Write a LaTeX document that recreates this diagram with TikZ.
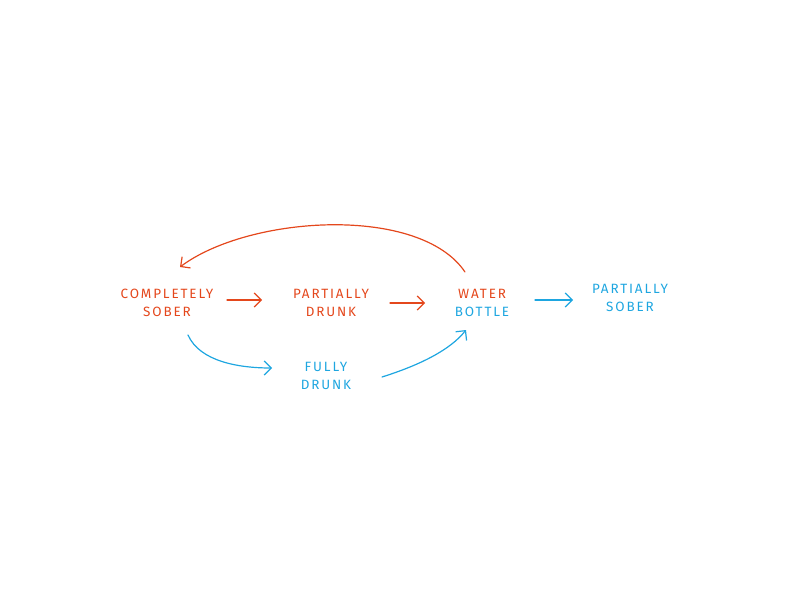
\documentclass[tikz,border=0pt]{standalone}
\usepackage{xcolor}
\usepackage{fontspec}
\setsansfont{Fira Sans}[LetterSpace=14]
\usepackage{tikz}
\usetikzlibrary{arrows.meta, positioning}
\definecolor{inkRed}{HTML}{E4471C}
\definecolor{inkBlue}{HTML}{1EA6E0}

\begin{document}
\begin{tikzpicture}[x=1bp, y=-1bp,
  state/.style={text=#1, align=center, inner sep=1pt,
                font=\sffamily\fontsize{13.5}{17.5}\selectfont},
  link/.style={draw=#1, line width=1.2pt, line cap=round,
               -{Straight Barb[length=7bp, width=14bp, line width=1.2pt]}},
]
  \useasboundingbox (0,0) rectangle (792,612);

  \node[state=inkRed] (sober) at (167,303) {COMPLETELY\\SOBER};
  \node[state=inkRed] (pdrunk) at (331,303) {PARTIALLY\\DRUNK};
  \node[state=inkRed] (bottle) at (482,303)
    {WATER\\\textcolor{inkBlue}{BOTTLE}};
  \node[state=inkBlue] (psober) at (630,298) {PARTIALLY\\SOBER};
  \node[state=inkBlue] (fdrunk) at (326,376) {FULLY\\DRUNK};

  % loose ends of the arrows
  \coordinate (s1) at (227,300);
  \coordinate (p1) at (262,300);
  \coordinate (d1) at (390,303);
  \coordinate (w1) at (425,303);
  \coordinate (b1) at (535,300);
  \coordinate (b2) at (573,300);
  \coordinate (top0) at (465,272);
  \coordinate (top1) at (180,267);
  \coordinate (low0) at (188,335);
  \coordinate (low1) at (272,368);
  \coordinate (fd0) at (382,377);
  \coordinate (fd1) at (466,330);

  \draw[link=inkRed] (s1) -- (p1);
  \draw[link=inkRed] (d1) -- (w1);
  \draw[link=inkBlue] (b1) -- (b2);
  \draw[link=inkRed] (top0) .. controls (420,205) and (250,215) .. (top1);
  \draw[link=inkBlue] (low0) .. controls (200,362) and (240,368) .. (low1);
  \draw[link=inkBlue] (fd0) .. controls (420,365) and (450,350) .. (fd1);
\end{tikzpicture}
\end{document}
